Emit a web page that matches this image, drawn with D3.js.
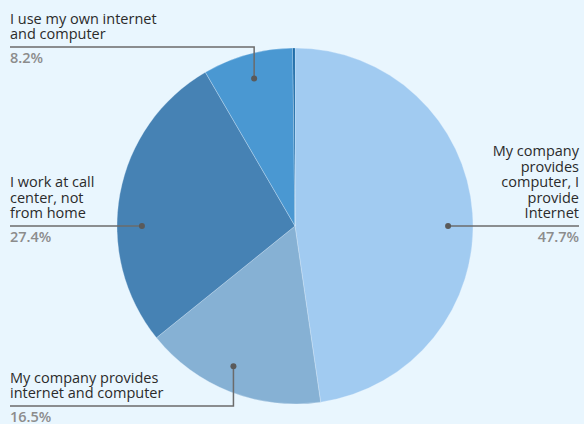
<!DOCTYPE html>
<html>
<head>
<meta charset="utf-8">
<script src="https://cdn.jsdelivr.net/npm/d3@7"></script>
<style>
  html, body { margin: 0; padding: 0; background: #e9f6fe; }
  svg { display: block; }
  text { font-family: "Open Sans", "Noto Sans", sans-serif; }
</style>
</head>
<body>
<script>
// Survey answers: how remote work equipment is provided
const categories = [
  "My company provides computer, I provide Internet",
  "My company provides internet and computer",
  "I work at call center, not from home",
  "I use my own internet and computer",
  "Other"
];
const values = [47.7, 16.5, 27.4, 8.2, 0.2];
const labelLines = [
  ["My company", "provides", "computer, I", "provide", "Internet"],
  ["My company provides", "internet and computer"],
  ["I work at call", "center, not", "from home"],
  ["I use my own internet", "and computer"],
  null
];
const colors = ["#a1cbf1", "#86b1d4", "#4682b4", "#4a98d2", "#0b5fa0"];

const W = 584, H = 424;
const cx = 295, cy = 226, R = 178;
const lineH = 15.5;
const fontSize = 14.5;

const svg = d3.select("body").append("svg")
  .attr("width", W).attr("height", H);

const pie = d3.pie().sort(null).value(d => d.value);
const arcs = pie(values.map((v, i) => ({ value: v, i })));
const arc = d3.arc().innerRadius(0).outerRadius(R);

const g = svg.append("g").attr("transform", `translate(${cx},${cy})`);
g.selectAll("path").data(arcs).join("path")
  .attr("d", arc)
  .attr("fill", d => colors[d.data.i])
  .attr("stroke", "#e9f6fe")
  .attr("stroke-width", 0.3);

// Leader layout: which way each label is routed from its slice
const leaderLayout = ["right", "bottom", "left", "top", null];
const dotR = R * 0.86;
const pt = a => [cx + dotR * Math.sin(a), cy - dotR * Math.cos(a)];

const ann = svg.append("g");
const lineColor = "#6b6b6b";

arcs.forEach((d, k) => {
  const mode = leaderLayout[k];
  if (!mode) return;
  const mid = (d.startAngle + d.endAngle) / 2;
  const lines = labelLines[k];
  const pct = d3.format(".1f")(values[k]) + "%";
  let dot, path, textX, anchor, lineY;

  if (mode === "right") {
    dot = pt(Math.PI / 2);
    lineY = dot[1];
    textX = W - 5;
    anchor = "end";
    path = [[dot[0], lineY], [textX, lineY]];
  } else if (mode === "left") {
    dot = pt(3 * Math.PI / 2);
    lineY = dot[1];
    textX = 10;
    anchor = "start";
    path = [[dot[0], lineY], [textX, lineY]];
  } else if (mode === "top") {
    dot = pt(mid);
    lineY = 47;
    textX = 10;
    anchor = "start";
    path = [dot, [dot[0], lineY], [textX, lineY]];
  } else {
    dot = pt(mid + 0.04);
    lineY = 406;
    textX = 10;
    anchor = "start";
    path = [dot, [dot[0], lineY], [textX, lineY]];
  }

  ann.append("path")
    .attr("d", d3.line()(path))
    .attr("fill", "none")
    .attr("stroke", lineColor)
    .attr("stroke-width", 1.5);
  ann.append("circle")
    .attr("cx", dot[0]).attr("cy", dot[1]).attr("r", 3)
    .attr("fill", "#5a5a5a");

  lines.forEach((s, j) => {
    ann.append("text")
      .attr("x", textX)
      .attr("y", lineY - 8 - (lines.length - 1 - j) * lineH)
      .attr("text-anchor", anchor)
      .attr("font-size", fontSize)
      .attr("fill", "#2b2b2b")
      .text(s);
  });
  ann.append("text")
    .attr("x", textX).attr("y", lineY + 15.5)
    .attr("text-anchor", anchor)
    .attr("font-size", fontSize)
    .attr("font-weight", 600)
    .attr("fill", "#8c8c8c")
    .text(pct);
});
</script>
</body>
</html>
